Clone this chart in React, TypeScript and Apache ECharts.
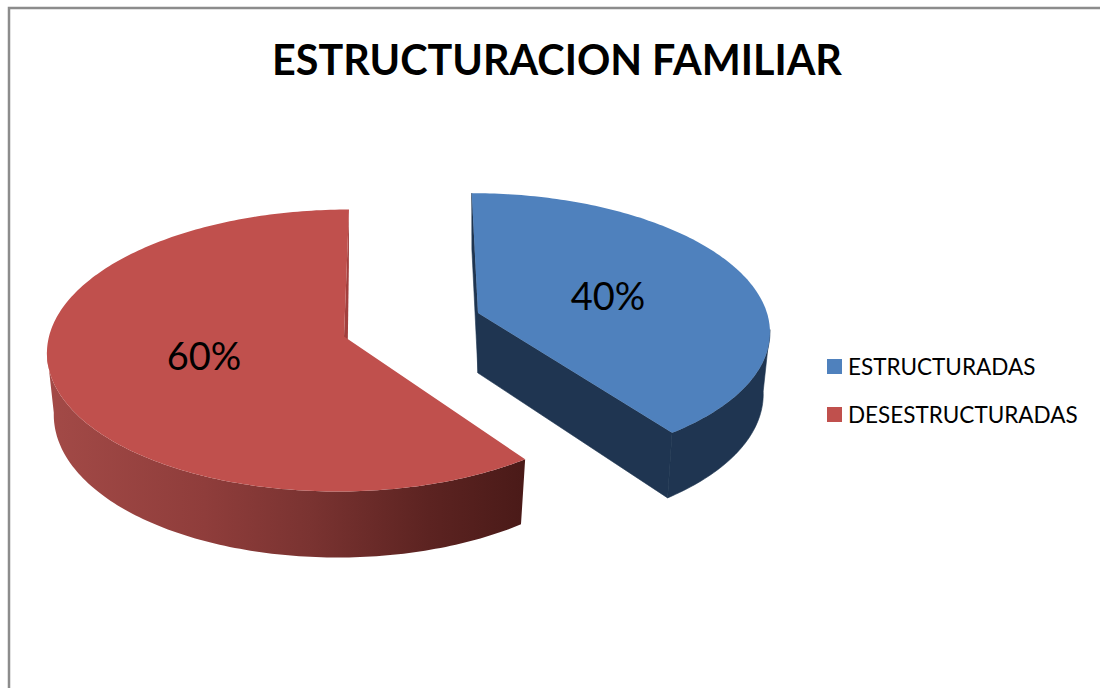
import React, { useEffect, useRef } from "react";
import * as echarts from "echarts";

const titleText = "ESTRUCTURACION FAMILIAR";
const categories = ["ESTRUCTURADAS", "DESESTRUCTURADAS"];
const percentValues = [40, 60];
const topColors = ["#4F81BD", "#C0504D"];

// Perspective drawing of each exploded slice (apex, ellipse axes, tilt)
const sliceViews = [
  { ax: 478, ay: 313, a: 134, rxL: 289, rxR: 289, k: 0.118, s: 7, wall: 97, lx: 608, ly: 295, cut: "#1F3551", outer: null as any },
  {
    ax: 344, ay: 336.5, a: 139.6, rxL: 295, rxR: 291, k: 0.0993, s: -5.5, wall: 264, lx: 204, ly: 355, cut: "#A23F3D",
    outer: [
      [0, "#A34A47"],
      [0.33, "#8F3D3B"],
      [0.55, "#7A3331"],
      [0.8, "#5C2321"],
      [1, "#4A1A18"],
    ],
  },
];

function project(v: any, deg: number, bottom: boolean) {
  const t = (deg * Math.PI) / 180;
  const u = Math.sin(t);
  const w = -Math.cos(t);
  const d = 1 - v.k * w;
  const x = ((u >= 0 ? v.rxR : v.rxL) * u + v.s * w) / d;
  const y = (v.a * w) / d;
  if (!bottom) return [v.ax + x, v.ay + y];
  return [v.ax + x * 0.977, v.ay + y + 61 + 5 * w];
}

function arc(v: any, from: number, to: number, bottom: boolean) {
  const pts: number[][] = [];
  const n = Math.ceil(Math.abs(to - from));
  for (let i = 0; i <= n; i++) pts.push(project(v, from + ((to - from) * i) / n, bottom));
  return pts;
}

const total = percentValues.reduce((p, c) => p + c, 0);

function sliceRange(idx: number) {
  let start = 0;
  for (let i = 0; i < idx; i++) start += (percentValues[i] / total) * 360;
  return [start, start + (percentValues[idx] / total) * 360];
}

function makeSeries(idx: number) {
  return {
    type: "custom",
    name: categories[idx],
    coordinateSystem: "none",
    silent: true,
    itemStyle: { color: topColors[idx] },
    data: [[percentValues[idx]]],
    renderItem: (_p: any, api: any) => {
      const value = api.value(0);
      const v = sliceViews[idx];
      const [from, to] = sliceRange(idx);
      const apex = [v.ax, v.ay];
      const apexB = [idx === 0 ? v.ax : v.ax + 3, v.ay + 60];
      const topArc = arc(v, from, to, false);
      // the outer wall runs from the front cut to the silhouette line
      const a0 = idx === 0 ? v.wall : from;
      const a1 = idx === 0 ? to : v.wall;
      const wallPts = arc(v, a0, a1, false).concat(arc(v, a1, a0, true));
      const outerFill: any = v.outer
        ? new echarts.graphic.LinearGradient(
            0, 0, 1, 0,
            v.outer.map((s: any) => ({ offset: s[0], color: s[1] }))
          )
        : v.cut;
      const seam = v.outer ? {} : { stroke: v.cut, lineWidth: 0.6 };
      const backDeg = idx === 0 ? from : to;
      const children: any[] = [
        { type: "polygon", shape: { points: wallPts }, style: { fill: outerFill, ...seam } },
        {
          type: "polygon",
          shape: { points: [apex, project(v, backDeg, false), project(v, backDeg, true), apexB] },
          style: { fill: v.cut, ...seam },
        },
      ];
      if (idx === 0) {
        children.push({
          type: "polygon",
          shape: { points: [apex, project(v, to, false), project(v, to, true), apexB] },
          style: { fill: v.cut, ...seam },
        });
      }
      children.push({
        type: "polygon",
        shape: { points: [apex, ...topArc] },
        style: { fill: topColors[idx] },
      });
      children.push({
        type: "text",
        style: {
          x: v.lx,
          y: v.ly,
          text: `${value}%`,
          fill: "#000",
          font: "38px Lato",
          align: "center",
          verticalAlign: "middle",
        },
      });
      return { type: "group", children };
    },
  };
}

export default function App() {
  const ref = useRef<HTMLDivElement>(null);
  useEffect(() => {
    document.body.style.margin = "0";
    document.body.style.overflow = "hidden";
    const chart = echarts.init(ref.current!, null, { renderer: "svg" });
    chart.setOption({
      animation: false,
      backgroundColor: "#fff",
      title: {
        text: titleText,
        left: 552,
        textAlign: "center",
        top: 33,
        textStyle: { fontFamily: "Lato", fontWeight: "bold", fontSize: 41.3, color: "#000" },
      },
      legend: {
        orient: "vertical",
        left: 822,
        top: 350,
        itemWidth: 15,
        itemHeight: 15,
        itemGap: 25,
        icon: "rect",
        data: categories,
        selectedMode: false,
        textStyle: { fontFamily: "Lato", fontSize: 22.5, color: "#000", padding: [0, 0, 0, 1] },
      },
      graphic: [
        {
          type: "rect",
          silent: true,
          z: -1,
          shape: { x: 9, y: 8, width: 1200, height: 800 },
          style: { fill: "#fff", stroke: "#8C8C8C", lineWidth: 2.5 },
        },
      ],
      series: [makeSeries(1), makeSeries(0)],
    });
    return () => chart.dispose();
  }, []);
  return <div ref={ref} style={{ width: 1100, height: 688 }} />;
}
